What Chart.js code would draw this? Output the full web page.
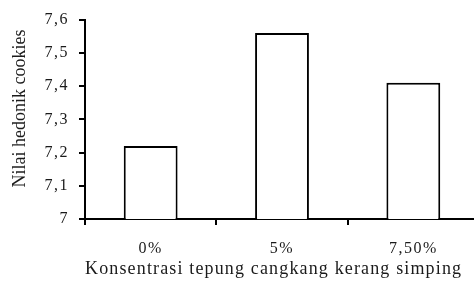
<!DOCTYPE html>
<html>
<head>
<meta charset="utf-8">
<script src="https://cdn.jsdelivr.net/npm/chart.js@4/dist/chart.umd.min.js"></script>
<style>
  html, body { margin: 0; padding: 0; background: #fff; overflow: hidden; }
  #wrap { width: 474px; height: 284px; overflow: hidden; position: relative; }
  canvas { display: block; }
</style>
</head>
<body>
<div id="wrap"><canvas id="c" width="480" height="284"></canvas></div>
<script>
const categories = ['0%', '5%', '7,50%'];
const hedonicValues = [7.22, 7.56, 7.41];
const yTicks = [7, 7.1, 7.2, 7.3, 7.4, 7.5, 7.6];
const xTitle = 'Konsentrasi tepung cangkang kerang simping';
const yTitle = 'Nilai hedonik cookies';

const TEXT = '#1a1a1a';
const FONT = '"Liberation Serif", "Times New Roman", serif';

const spacingPlugin = {
  id: 'spacing',
  beforeUpdate(chart) { chart.ctx.letterSpacing = '1.5px'; },
  beforeDraw(chart) { chart.ctx.letterSpacing = '1.5px'; },
  afterDraw(chart) {
    const ctx = chart.ctx;
    const a = chart.chartArea;
    ctx.save();
    ctx.fillStyle = TEXT;
    // x title
    ctx.letterSpacing = '1.15px';
    ctx.font = '18px ' + FONT;
    ctx.textAlign = 'left';
    ctx.textBaseline = 'middle';
    ctx.fillText(xTitle, a.left, 269);
    // y title
    ctx.letterSpacing = '0px';
    ctx.font = '18px ' + FONT;
    ctx.translate(20, a.top + 89);
    ctx.rotate(-Math.PI / 2);
    ctx.textAlign = 'center';
    ctx.fillText(yTitle, 0, 0);
    ctx.restore();
  }
};

new Chart(document.getElementById('c'), {
  type: 'bar',
  data: {
    labels: categories,
    datasets: [{
      data: hedonicValues,
      backgroundColor: '#ffffff',
      borderColor: '#000000',
      borderWidth: 2,
      categoryPercentage: 1,
      barPercentage: 0.41
    }]
  },
  options: {
    responsive: false,
    animation: false,
    devicePixelRatio: 1,
    layout: { padding: { top: 19, right: 1, left: 0, bottom: 0 } },
    plugins: { legend: { display: false }, tooltip: { enabled: false } },
    scales: {
      x: {
        afterFit(s) { s.height = 65; },
        grid: { display: true, drawOnChartArea: false, drawTicks: true, tickLength: 6, color: '#000', lineWidth: 2, offset: true },
        border: { display: true, color: '#000', width: 2 },
        ticks: { color: TEXT, font: { family: FONT, size: 16 }, padding: 14, maxRotation: 0 }
      },
      y: {
        min: 7, max: 7.6,
        afterFit(s) { s.width = 85; },
        afterBuildTicks(s) { s.ticks = yTicks.map(v => ({ value: v })); },
        grid: { display: true, drawOnChartArea: false, drawTicks: true, tickLength: 6, color: '#000', lineWidth: 2 },
        border: { display: true, color: '#000', width: 2 },
        ticks: {
          color: TEXT, font: { family: FONT, size: 16 }, padding: 10,
          callback(v) { return Number.isInteger(v) ? String(v) : v.toFixed(1).replace('.', ','); }
        }
      }
    }
  },
  plugins: [spacingPlugin]
});
</script>
</body>
</html>
